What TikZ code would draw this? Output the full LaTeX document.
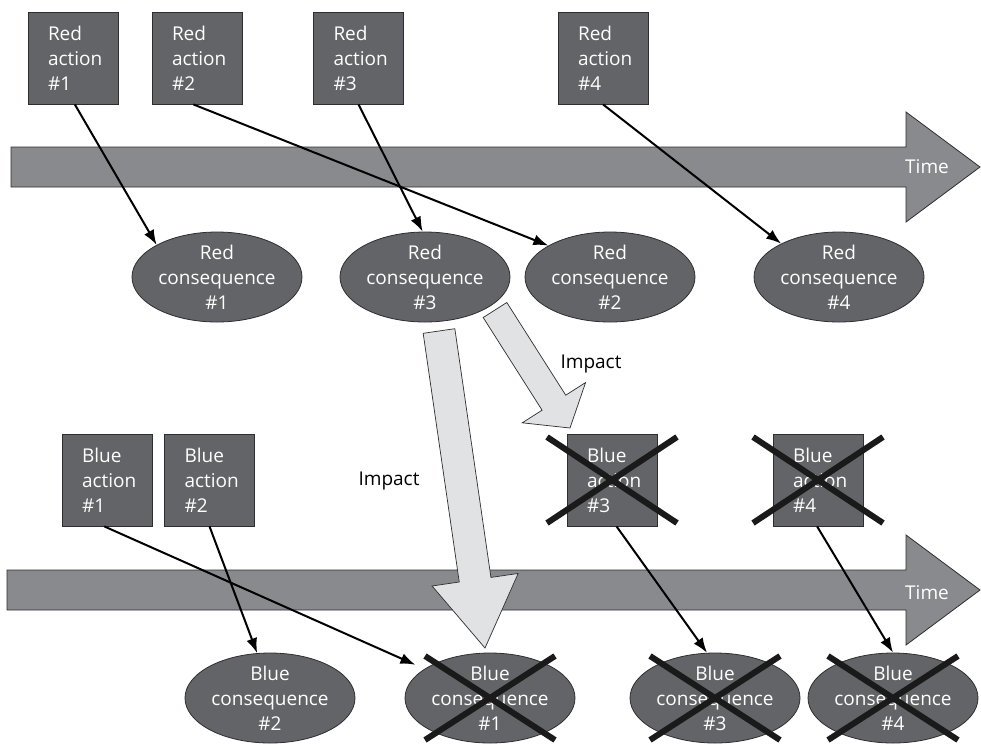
\documentclass[tikz,border=0pt]{standalone}
\usepackage{fontspec}
\setmainfont{Open Sans}
\usetikzlibrary{shapes.geometric,arrows.meta,calc}

\definecolor{boxgray}{HTML}{636468}
\definecolor{timegray}{HTML}{898A8E}
\definecolor{impactgray}{HTML}{E1E2E4}
\definecolor{edgegray}{HTML}{2E2E30}
\definecolor{crossblack}{HTML}{1A1A1A}

% block arrow: #1 start, #2 tip, #3 half shaft width, #4 head length, #5 half head width
\newcommand\impactarrow[5]{%
  \coordinate (hb) at ($(#2)!#4!(#1)$);
  \draw[impact] ($(#1)!#3!90:(#2)$) -- ($(hb)!#3!90:(#2)$) -- ($(hb)!#5!90:(#2)$)
    -- (#2) -- ($(hb)!#5!-90:(#2)$) -- ($(hb)!#3!-90:(#2)$) -- ($(#1)!#3!-90:(#2)$) -- cycle;}

\tikzset{
  labelfont/.style={font=\fontsize{19}{25}\selectfont},
  actionbox/.style={labelfont, rectangle, draw=edgegray, line width=0.8pt, fill=boxgray,
    text=white, minimum height=92pt, text width=50pt, inner xsep=20pt, inner ysep=0pt, align=left},
  consequence/.style={labelfont, ellipse, draw=edgegray, line width=0.8pt, fill=boxgray,
    text=white, minimum width=170pt, minimum height=90pt, inner xsep=0pt, inner ysep=-8pt, align=center},
  timebar/.style={draw=edgegray, line width=0.8pt, fill=timegray, line join=miter},
  timelabel/.style={labelfont, text=white},
  impact/.style={draw=edgegray, line width=0.7pt, fill=impactgray, line join=miter},
  impactlabel/.style={labelfont, text=black},
  conn/.style={line width=2pt, draw=black, -{Latex[length=15pt,width=11pt]}},
  cross/.style={line width=6pt, draw=crossblack},
}

\begin{document}
\begin{tikzpicture}[x=1pt, y=-1pt]
\useasboundingbox (0,0) rectangle (981,745);
\fill[white] (0,0) rectangle (981,745);

% time axes
\draw[timebar] (11,147) -- (906,147) -- (906,112) -- (980,167) -- (906,222) -- (906,187) -- (11,187) -- cycle;
\draw[timebar] (7,570) -- (906,570) -- (906,535) -- (980,590) -- (906,645) -- (906,610) -- (7,610) -- cycle;
\node[timelabel] (time1) at (927,167) {Time};
\node[timelabel] (time2) at (927,593) {Time};

% red actions and consequences
\node[actionbox] (r1) at (73,58) {Red\\action\\\#1};
\node[actionbox] (r2) at (197,58) {Red\\action\\\#2};
\node[actionbox] (r3) at (358.5,58) {Red\\action\\\#3};
\node[actionbox] (r4) at (603,58) {Red\\action\\\#4};

\node[consequence] (rc1) at (217,277) {Red\\consequence\\\#1};
\node[consequence] (rc3) at (425,277) {Red\\consequence\\\#3};
\node[consequence] (rc2) at (610,277) {Red\\consequence\\\#2};
\node[consequence] (rc4) at (839,277) {Red\\consequence\\\#4};

% blue actions and consequences
\node[actionbox] (b1) at (107,480) {Blue\\action\\\#1};
\node[actionbox] (b2) at (209.5,480) {Blue\\action\\\#2};
\node[actionbox] (b3) at (612,480) {Blue\\action\\\#3};
\node[actionbox] (b4) at (818,480) {Blue\\action\\\#4};

\node[consequence] (bc2) at (270,698) {Blue\\consequence\\\#2};
\node[consequence] (bc1) at (490,698) {Blue\\consequence\\\#1};
\node[consequence] (bc3) at (715,698) {Blue\\consequence\\\#3};
\node[consequence] (bc4) at (893,698) {Blue\\consequence\\\#4};

% action -> consequence links
\draw[conn] ($(r1.south west)!0.52!(r1.south east)$) -- (rc1.152);
\draw[conn] ($(r2.south west)!0.46!(r2.south east)$) -- (rc2.153);
\draw[conn] ($(r3.south west)!0.5!(r3.south east)$) -- (rc3.93);
\draw[conn] ($(r4.south west)!0.5!(r4.south east)$) -- (rc4.150);
\draw[conn, shorten >=10pt] ($(b1.south west)!0.47!(b1.south east)$) -- (bc1.156);
\draw[conn] ($(b2.south west)!0.5!(b2.south east)$) -- (bc2.106);
\draw[conn] ($(b3.south west)!0.55!(b3.south east)$) -- (bc3.100);
\draw[conn] ($(b4.south west)!0.49!(b4.south east)$) -- (bc4.90);

% impacts of red consequence #3
\coordinate (i1s) at ($(rc3)+(14,54)$);
\coordinate (i1t) at ($(bc1)+(-5,-50)$);
\impactarrow{i1s}{i1t}{16pt}{69pt}{43.5pt}
\coordinate (i2s) at ($(rc3)+(70,33)$);
\coordinate (i2t) at ($(b3)+(-42,-52)$);
\impactarrow{i2s}{i2t}{14pt}{30pt}{37.5pt}
\node[impactlabel] (imp1) at (389,481) {Impact};
\node[impactlabel] (imp2) at (591,364) {Impact};

% cancelled blue items
\foreach \n in {b3,b4}{
  \draw[cross] ($(\n)+(-65,-43)$) -- ($(\n)+(65,43)$);
  \draw[cross] ($(\n)+(-65,43)$) -- ($(\n)+(65,-43)$);
}
\foreach \n in {bc1,bc3,bc4}{
  \draw[cross] ($(\n)+(-65,-42)$) -- ($(\n)+(65,42)$);
  \draw[cross] ($(\n)+(-65,42)$) -- ($(\n)+(65,-42)$);
}
\end{tikzpicture}
\end{document}
